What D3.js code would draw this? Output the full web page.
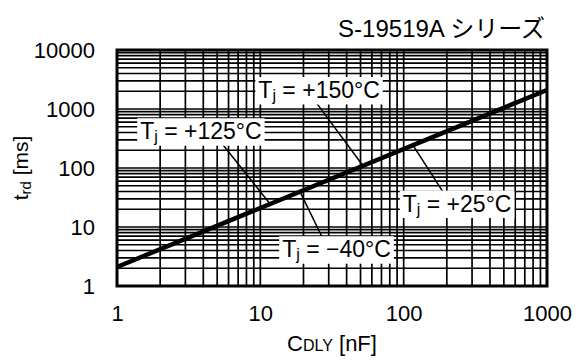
<!DOCTYPE html>
<html><head><meta charset="utf-8">
<script src="https://cdn.jsdelivr.net/npm/d3@7"></script>
<style>body{margin:0;background:#fff}svg{display:block;font-family:"Liberation Sans",Arial,sans-serif}</style>
</head><body><svg id="c" width="576" height="360"></svg>
<script>
const capacitance = [1, 1000];
const delayTime = [2.1, 2100];
const xTicks = [1, 10, 100, 1000];
const yTicks = [1, 10, 100, 1000, 10000];
const labelTemps = ["+150°C", "+125°C", "+25°C", "\u221240°C"];
const labelX = [25.7, 3.85, 236, 34];      // label centre (data coords)
const labelY = [2100, 420, 25, 4.2];
const leaderAnchorX = [52, 11.7, 116, 18.9]; // where leader touches the curve
const leaderEndX = [23, 5.5, 194, 28.7];     // leader end near label
const leaderEndY = [1590, 245, 35, 4.95];

const svg = d3.select("#c");
const x = d3.scaleLog().domain([1, 1000]).range([117, 547]);
const y = d3.scaleLog().domain([1, 10000]).range([286, 50]);
const FONT = "Liberation Sans, Arial, sans-serif";

// grid
const gx = [], gy = [];
for (let d = 1; d < 1000; d *= 10) for (let k = 1; k <= 9; k++) gx.push(d * k);
for (let d = 1; d < 10000; d *= 10) for (let k = 1; k <= 9; k++) gy.push(d * k);
const grid = svg.append("g");
grid.selectAll("line.v").data(gx).join("line")
  .attr("x1", d => x(d)).attr("x2", d => x(d)).attr("y1", y(1)).attr("y2", y(10000))
  .attr("stroke", "#000").attr("stroke-width", 1.7);
grid.selectAll("line.h").data(gy).join("line")
  .attr("y1", d => y(d)).attr("y2", d => y(d)).attr("x1", x(1)).attr("x2", x(1000))
  .attr("stroke", "#000").attr("stroke-width", 1.7);

// curve
const pts = capacitance.map((c, i) => [c, delayTime[i]]);
svg.append("path").datum(pts)
  .attr("d", d3.line().x(d => x(d[0])).y(d => y(d[1])))
  .attr("stroke", "#000").attr("stroke-width", 4.5).attr("fill", "none");

// frame
svg.append("rect").attr("x", x(1)).attr("y", y(10000))
  .attr("width", x(1000) - x(1)).attr("height", y(1) - y(10000))
  .attr("fill", "none").attr("stroke", "#000").attr("stroke-width", 3);

// axes
const xAxis = d3.axisBottom(x).tickValues(xTicks).tickFormat(d3.format("d")).tickSize(0).tickPadding(19);
const yAxis = d3.axisLeft(y).tickValues(yTicks).tickFormat(d3.format("d")).tickSize(0).tickPadding(22);
svg.append("g").attr("transform", `translate(0,${y(1)})`).call(xAxis)
  .call(g => g.select(".domain").remove())
  .selectAll("text").attr("font-size", 22).attr("fill", "#000").attr("font-family", FONT);
svg.append("g").attr("transform", `translate(${x(1)},0)`).call(yAxis)
  .call(g => g.select(".domain").remove())
  .selectAll("text").attr("font-size", 22).attr("fill", "#000").attr("font-family", FONT);

// leaders
const lbl = svg.append("g");
labelTemps.forEach((t, i) => {
  const ax = leaderAnchorX[i];
  const ay = delayTime[0] * ax / capacitance[0];
  lbl.append("line").attr("x1", x(ax)).attr("y1", y(ay))
    .attr("x2", x(leaderEndX[i])).attr("y2", y(leaderEndY[i]))
    .attr("stroke", "#000").attr("stroke-width", 1.5);
});
labelTemps.forEach((t, i) => {
  const g = lbl.append("g");
  const tx = g.append("text").attr("x", x(labelX[i])).attr("y", y(labelY[i]))
    .attr("text-anchor", "middle").attr("dominant-baseline", "central")
    .attr("font-size", 23).attr("fill", "#000");
  tx.append("tspan").text("T");
  tx.append("tspan").text("j").attr("font-size", 16).attr("dy", 5);
  tx.append("tspan").text(" = " + t).attr("dy", -5);
  const b = tx.node().getBBox();
  g.insert("rect", "text").attr("x", b.x - 3).attr("y", b.y)
    .attr("width", b.width + 6).attr("height", b.height + 1).attr("fill", "#fff");
});

// titles
svg.append("text").attr("x", 545).attr("y", 37).attr("text-anchor", "end")
  .attr("font-size", 24).attr("fill", "#000")
  .attr("font-family", "Liberation Sans, 'Noto Sans CJK JP', sans-serif")
  .text("S-19519A シリーズ");

const xt = svg.append("text").attr("x", 332).attr("y", 351).attr("text-anchor", "middle")
  .attr("font-size", 22).attr("fill", "#000");
xt.append("tspan").text("C");
xt.append("tspan").text("DLY").attr("font-size", 16);
xt.append("tspan").text(" [nF]");

const yt = svg.append("text").attr("transform", "translate(28,168) rotate(-90)")
  .attr("text-anchor", "middle").attr("font-size", 21).attr("fill", "#000");
yt.append("tspan").text("t");
yt.append("tspan").text("rd").attr("font-size", 15).attr("dy", 3);
yt.append("tspan").text(" [ms]").attr("dy", -3);
</script></body></html>
